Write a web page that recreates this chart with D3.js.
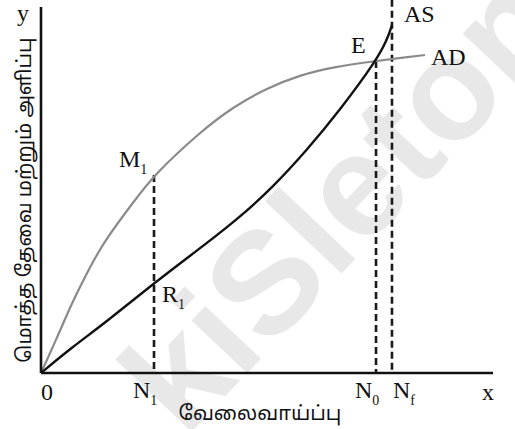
<!DOCTYPE html>
<html>
<head>
<meta charset="utf-8">
<script src="https://cdn.jsdelivr.net/npm/d3@7"></script>
<style>
  body { margin: 0; background: #fff; }
  .serif { font-family: "Liberation Serif", "DejaVu Serif", serif; fill: #111; }
  .tamil { font-family: "Noto Sans", "Noto Sans Tamil", "Lohit Tamil", sans-serif; fill: #111; }
</style>
</head>
<body>
<script>
// curve values, both axes on a 0-100 scale
var adX = [0, 3.76, 6.64, 10.40, 14.16, 20.80, 25.00, 35.18, 42.48, 50.00, 57.30, 64.60, 74.12, 79.42, 84.96];
var adY = [0, 10.2, 18.6, 28.0, 36.34, 47.27, 54.10, 65.85, 72.68, 77.87, 81.42, 83.61, 85.25, 86.07, 86.89];

var asX = [0, 6.64, 14.16, 25.00, 36.73, 44.03, 51.33, 58.85, 66.15, 74.12, 76.55, 77.65];
var asY = [0, 6.83, 13.66, 24.59, 35.52, 42.62, 50.82, 60.93, 71.86, 85.25, 90.98, 95.08];

// employment levels marked on the x axis
var levelNames = ["N1", "N0", "Nf"];
var levelX = [25.00, 74.12, 77.65];
var levelTop = [54.10, 85.25, 102];

var xTitle = "வேலைவாய்ப்பு";
var yTitle = "மொத்த தேவை மற்றும் அளிப்பு";

//begin script when window loads
window.onload = drawChart();

function drawChart(){

    var width = 515,
        height = 429;

    var svg = d3.select("body")
        .append("svg")
        .attr("width", width)
        .attr("height", height);

    var x = d3.scaleLinear().domain([0, 100]).range([41, 493]);
    var y = d3.scaleLinear().domain([0, 100]).range([373, 7]);

    //faint watermark behind the drawing
    svg.append("text")
        .attr("transform", "translate(351,208) rotate(-46.6)")
        .attr("y", 38)
        .attr("text-anchor", "middle")
        .style("font-family", "'Liberation Sans', Arial, sans-serif")
        .style("font-weight", "bold")
        .style("font-size", "145px")
        .style("fill", "#e8e8e8")
        .text("kiSleton");

    var line = d3.line()
        .x(function(d){ return x(d[0]); })
        .y(function(d){ return y(d[1]); })
        .curve(d3.curveBasis);

    //dashed drop lines
    svg.selectAll(".drop")
        .data(levelX)
        .enter()
        .append("line")
        .attr("class", "drop")
        .attr("x1", function(d){ return x(d); })
        .attr("x2", function(d){ return x(d); })
        .attr("y1", function(d, i){ return y(levelTop[i]); })
        .attr("y2", y(0))
        .attr("stroke", "#1a1a1a")
        .attr("stroke-width", 2.6)
        .attr("stroke-dasharray", "7,4");

    //aggregate demand
    svg.append("path")
        .datum(d3.zip(adX, adY))
        .attr("d", line)
        .attr("fill", "none")
        .attr("stroke", "#8a8a8a")
        .attr("stroke-width", 2.2);

    //aggregate supply
    svg.append("path")
        .datum(d3.zip(asX, asY))
        .attr("d", line)
        .attr("fill", "none")
        .attr("stroke", "#111")
        .attr("stroke-width", 2.4);

    //axes as plain lines
    svg.append("line")
        .attr("x1", x(0)).attr("x2", x(0))
        .attr("y1", y(100)).attr("y2", y(0))
        .attr("stroke", "#111").attr("stroke-width", 2.6);
    svg.append("line")
        .attr("x1", x(0)).attr("x2", x(100))
        .attr("y1", y(0)).attr("y2", y(0))
        .attr("stroke", "#111").attr("stroke-width", 2.6);

    //point labels with subscripts
    function label(txt, sub, px, py){
        var t = svg.append("text")
            .attr("class", "serif")
            .attr("x", px)
            .attr("y", py)
            .style("font-size", "24px")
            .text(txt);
        if (sub) {
            t.append("tspan")
                .attr("dy", 7)
                .style("font-size", "14px")
                .text(sub);
        }
    }

    label("y", null, 17, 21);
    label("0", null, 41, 400);
    label("x", null, 482, 400);
    label("AS", null, 404, 22);
    label("AD", null, 431, 65);
    label("E", null, 351, 53);
    label("M", "1", 119, 167);
    label("R", "1", 162, 302);
    levelNames.forEach(function(n, i){
        label("N", n.slice(1), x(levelX[i]) - (i == 2 ? -1 : 21), 398);
    });

    //axis titles
    svg.append("text")
        .attr("class", "tamil")
        .attr("x", 260)
        .attr("y", 420)
        .attr("text-anchor", "middle")
        .style("font-size", "20px")
        .text(xTitle);

    svg.append("text")
        .attr("class", "tamil")
        .attr("transform", "translate(31,200) rotate(-90)")
        .attr("text-anchor", "middle")
        .style("font-size", "20px")
        .text(yTitle);
};
</script>
</body>
</html>
